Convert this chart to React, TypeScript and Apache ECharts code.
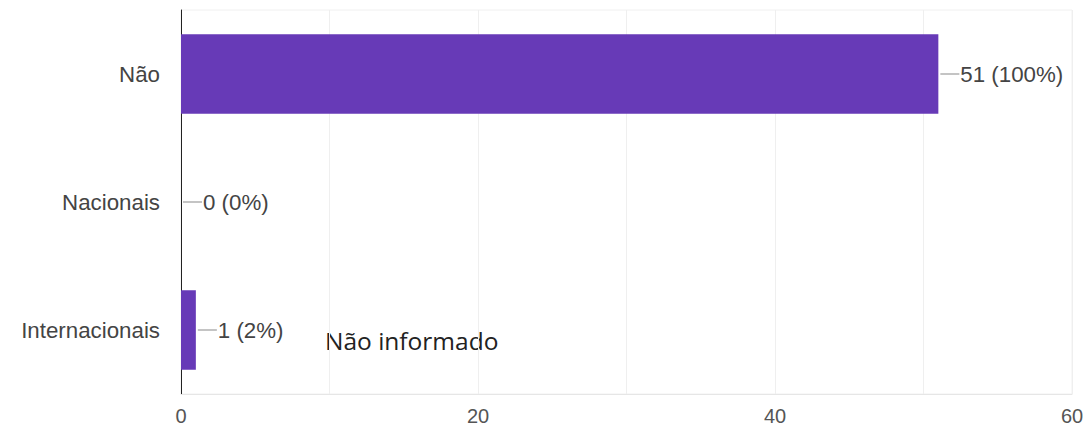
import React, { useEffect, useRef } from "react";
import * as echarts from "echarts";

const categories = ["Não", "Nacionais", "Internacionais"];
const values = [51, 0, 1];
const percents = ["100%", "0%", "2%"];
const xTicks = [0, 20, 40, 60];
const note = "Não informado";

export default function App() {
  const ref = useRef<HTMLDivElement>(null);
  useEffect(() => {
    const chart = echarts.init(ref.current!, null, { renderer: "svg" });
    chart.setOption({
      animation: false,
      grid: { left: 181, right: 17, top: 10, bottom: 40, show: true, borderColor: "#f0f0f0", borderWidth: 1 },
      xAxis: {
        type: "value",
        min: 0,
        max: 60,
        interval: 10,
        axisLine: { show: true, lineStyle: { color: "#e6e6e6" } },
        axisTick: { show: false },
        splitLine: { show: true, lineStyle: { color: "#efefef" } },
        axisLabel: {
          color: "#555",
          fontSize: 20,
          fontFamily: "Liberation Sans",
          margin: 12,
          formatter: (v: number) => (xTicks.includes(v) ? String(v) : ""),
        },
      },
      yAxis: {
        type: "category",
        data: categories,
        inverse: true,
        axisLine: { show: true, lineStyle: { color: "#222", width: 1 } },
        axisTick: { show: false },
        splitLine: { show: false },
        axisLabel: { color: "#444", fontSize: 22.3, fontFamily: "Liberation Sans", margin: 21 },
      },
      series: [
        {
          type: "bar",
          data: values,
          barWidth: "62%",
          itemStyle: { color: "#673ab7" },
          label: {
            show: true,
            position: "right",
            distance: 2,
            formatter: (p: any) => `{ln|}{t|${p.value} (${percents[p.dataIndex]})}`,
            rich: {
              ln: { width: 19, height: 1, backgroundColor: "#888" },
              t: { color: "#444", fontSize: 22.3, fontFamily: "Liberation Sans", padding: [0, 0, 0, 1] },
            },
          },
        },
      ],
      graphic: [
        {
          type: "text",
          left: 325,
          top: 328,
          style: { text: note, fontSize: 24.5, fill: "#222", fontFamily: "Open Sans" },
        },
      ],
    });
    return () => chart.dispose();
  }, []);
  return <div ref={ref} style={{ width: 1089, height: 434, position: "absolute", left: 0, top: 0 }} />;
}
